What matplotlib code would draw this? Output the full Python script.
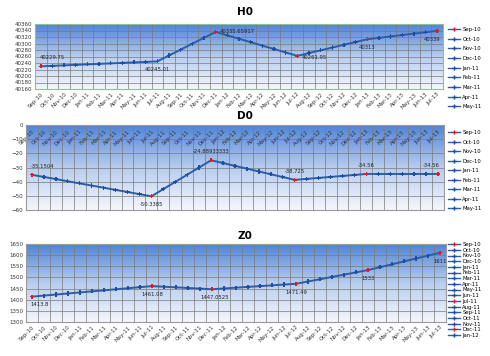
import matplotlib
matplotlib.use("Agg")
import matplotlib.pyplot as plt
import numpy as np
from matplotlib.colors import LinearSegmentedColormap
from matplotlib.lines import Line2D

months = [
    "Sep-10", "Oct-10", "Nov-10", "Dec-10",
    "Jan-11", "Feb-11", "Mar-11", "Apr-11", "May-11", "Jun-11",
    "Jul-11", "Aug-11", "Sep-11", "Oct-11", "Nov-11", "Dec-11",
    "Jan-12", "Feb-12", "Mar-12", "Apr-12", "May-12", "Jun-12",
    "Jul-12", "Aug-12", "Sep-12", "Oct-12", "Nov-12", "Dec-12",
    "Jan-13", "Feb-13", "Mar-13", "Apr-13", "May-13", "Jun-13", "Jul-13",
]

# months that are drawn in red and carry a data label
key_idx = [0, 10, 15, 22, 28, 34]

h0 = [40229.75, 40231.28, 40232.80, 40234.33, 40235.85, 40237.38, 40238.91,
      40240.43, 40241.96, 40243.48, 40245.01, 40263.14, 40281.27, 40299.40,
      40317.53, 40335.66, 40325.13, 40314.60, 40304.07, 40293.54, 40283.01,
      40272.48, 40261.95, 40270.46, 40278.97, 40287.48, 40295.98, 40304.49,
      40313.00, 40317.33, 40321.67, 40326.00, 40330.33, 40334.67, 40339.00]
h0_labels = ["40229.75", "40245.01", "40335.65917", "40261.95", "40313", "40339"]

d0 = [-35.15, -36.67, -38.19, -39.71, -41.23, -42.74, -44.26, -45.78, -47.30,
      -48.82, -50.34, -45.25, -40.16, -35.07, -29.98, -24.89, -26.87, -28.84,
      -30.82, -32.80, -34.77, -36.75, -38.73, -38.03, -37.34, -36.64, -35.95,
      -35.25, -34.56, -34.56, -34.56, -34.56, -34.56, -34.56, -34.56]
d0_labels = ["-35.1504", "-50.3385", "-24.88933333", "-38.725", "-34.56", "-34.56"]

z0 = [1413.80, 1418.53, 1423.26, 1427.98, 1432.71, 1437.44, 1442.17, 1446.90,
      1451.62, 1456.35, 1461.08, 1458.27, 1455.47, 1452.66, 1449.86, 1447.05,
      1450.54, 1454.03, 1457.52, 1461.02, 1464.51, 1468.00, 1471.49, 1481.74,
      1491.99, 1502.25, 1512.50, 1522.75, 1533.00, 1546.00, 1559.00, 1572.00,
      1585.00, 1598.00, 1611.00]
z0_labels = ["1413.8", "1461.08", "1447.0525", "1471.49", "1533", "1611"]

LINE = "#2c5da8"
MARK = "#1f4f9e"
RED = "#e01b24"
W, H = 490, 356

grad = LinearSegmentedColormap.from_list("bg", ["#f4f7fc", "#b8cdef", "#4f84d6"])


def rect(left, top, right, bottom):
    return [left / W, 1 - bottom / H, (right - left) / W, (bottom - top) / H]


def panel(fig, box, values, labels, ylim, ystep, title, title_y, offsets,
          legend_top, legend_n, legend_sp, top_ticks=False, edge="#9a9a9a"):
    ax = fig.add_axes(rect(*box))
    x = np.arange(len(values))
    ax.imshow(np.linspace(0, 1, 256).reshape(-1, 1), cmap=grad, origin="lower",
              extent=[0, 1, 0, 1], transform=ax.transAxes, aspect="auto", zorder=0)
    ax.set_xlim(-0.5, len(values) - 0.5)
    ax.set_ylim(*ylim)
    ax.set_yticks(np.arange(ylim[0], ylim[1] + ystep / 2, ystep))
    for yv in ax.get_yticks():
        ax.axhline(yv, color="#7a7a7a", lw=0.5, zorder=1)
    for xv in np.arange(-0.5, len(values), 1):
        ax.axvline(xv, color="#7a7a7a", lw=0.5, zorder=1)
    ax.tick_params(axis="y", labelsize=4, length=0, pad=2, labelcolor="#333333")
    ax.set_xticks(x)
    ax.set_xticklabels(months, rotation=45, ha="right", rotation_mode="anchor",
                       fontsize=4, color="#333333")
    if top_ticks:
        ax.tick_params(axis="x", labeltop=True, labelbottom=False, length=0, pad=-3)
        for t in ax.get_xticklabels():
            t.set_va("top")
    else:
        ax.tick_params(axis="x", length=0, pad=2)
    for s in ax.spines.values():
        s.set_color(edge)
        s.set_linewidth(0.8)

    ax.plot(x, values, color=LINE, lw=1.4, zorder=3)
    colors = [RED if i in key_idx else MARK for i in x]
    ax.scatter(x, values, marker="P", s=9, c=colors, linewidths=0, zorder=4)

    for i, txt, (dx, dy, ha) in zip(key_idx, labels, offsets):
        ax.annotate(txt, (i, values[i]), xytext=(dx, dy), textcoords="offset points",
                    ha=ha, va="center", fontsize=3.8, color="#222222", zorder=5)

    fig.text(0.5, 1 - title_y / H, title, ha="center", va="center",
             fontsize=7.5, fontweight="bold")

    handles = [Line2D([], [], color=LINE, lw=1, marker="P", ms=3,
                      mfc=RED if i in key_idx else MARK, mec="none")
               for i in range(legend_n)]
    fig.legend(handles, months[:legend_n], loc="upper left",
               bbox_to_anchor=(448 / W, 1 - legend_top / H), frameon=False,
               fontsize=3.8, handlelength=2.2, handletextpad=0.5,
               labelspacing=legend_sp, borderpad=0, borderaxespad=0)
    return ax


fig = plt.figure(figsize=(4.9, 3.56), dpi=100)

panel(fig, (35, 24, 443, 89), h0, h0_labels, (40160, 40360), 20, "H0", 12,
      [(-1, 6, "left"), (0, -6, "center"), (3, 0, "left"), (3, -1, "left"),
       (0, -6, "center"), (2, -6, "right")],
      legend_top=27, legend_n=9, legend_sp=0.88, edge="#8fbf9a")

panel(fig, (26, 125, 444, 210), d0, d0_labels, (-60, 0), 10, "D0", 116,
      [(-1, 6, "left"), (0, -6, "center"), (0, 6, "center"), (0, 6, "center"),
       (0, 6, "center"), (1, 6, "right")],
      legend_top=130, legend_n=9, legend_sp=0.86, top_ticks=True)

panel(fig, (26, 244, 446, 322), z0, z0_labels, (1300, 1650), 50, "Z0", 236,
      [(-1, -6, "left"), (0, -6, "center"), (2, -6, "center"), (0, -6, "center"),
       (0, -6, "center"), (0, -6, "center")],
      legend_top=242, legend_n=17, legend_sp=0.13)

fig.savefig("out.png", dpi=100)
